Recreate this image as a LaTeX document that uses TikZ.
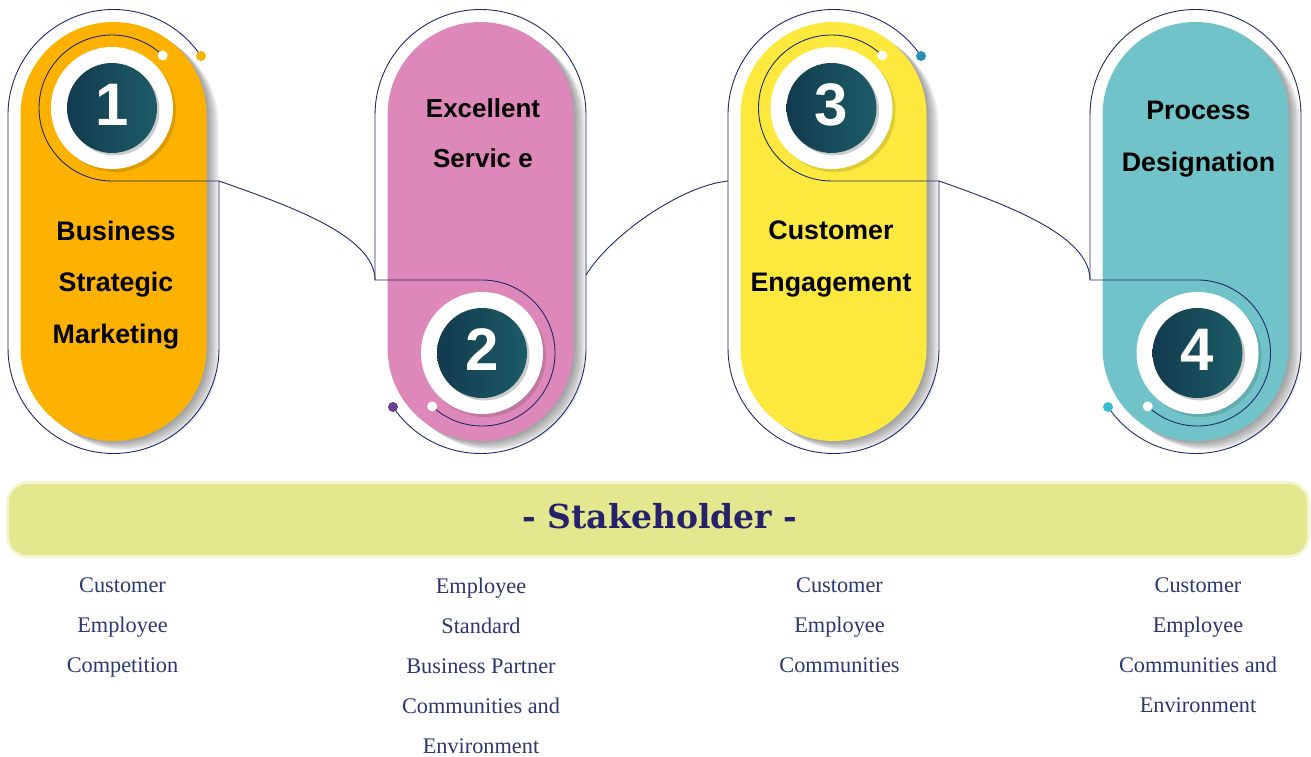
\documentclass[tikz,border=0pt]{standalone}
\usepackage{fontspec}
\setmainfont{Liberation Serif}
\setsansfont{Liberation Sans}
\newfontfamily\bandfont{DejaVu Serif}

\definecolor{pillorange}{HTML}{FDB100}
\definecolor{pillpink}{HTML}{DD88B8}
\definecolor{pillyellow}{HTML}{FDE93D}
\definecolor{pillteal}{HTML}{70C4C9}
\definecolor{rimblue}{HTML}{1F2A6B}
\definecolor{discleft}{HTML}{123A4E}
\definecolor{discright}{HTML}{1C5C66}
\definecolor{dotpurple}{HTML}{6A3D8E}
\definecolor{dotblue}{HTML}{2A8FB0}
\definecolor{dotcyan}{HTML}{3CBCCF}
\definecolor{bandfill}{HTML}{E3E88E}
\definecolor{stakeblue}{HTML}{25226B}
\definecolor{listblue}{HTML}{2B376E}

\begin{document}
\begin{tikzpicture}[x=1pt, y=1pt,
    rim/.style={draw=rimblue, line width=0.9pt},
    pill/.style={rounded corners=93pt},
    ring/.style={circle, fill=white, minimum size=122pt, inner sep=0pt},
    disc/.style={circle, minimum size=90pt, inner sep=0pt, left color=discleft, right color=discright},
    digit/.style={text=white, font=\sffamily\bfseries\fontsize{60}{60}\selectfont},
    dot/.style={circle, inner sep=0pt, minimum size=10pt},
    title/.style={anchor=north, inner sep=0pt, align=center, font=\sffamily\bfseries\fontsize{26.8}{51.5}\selectfont},
    stake/.style={anchor=base, inner sep=0pt, text=stakeblue, font=\bandfont\bfseries\fontsize{33}{33}\selectfont},
    holder/.style={anchor=north, inner sep=0pt, align=center, text=listblue, font=\fontsize{22.3}{40}\selectfont}]

    \useasboundingbox (0,0) rectangle (1311,756);

    \foreach \c in {113.5,480.5,833.5,1195.5}
      \foreach \s in {1,...,6}
        \fill[black, opacity=0.07, pill] (\c-93+2*\s,315-1.5*\s) rectangle (\c+93+2*\s,734-1.5*\s);

    \fill[pillorange, pill] (20.5,315) rectangle (206.5,734);
    \fill[pillpink, pill] (387.5,315) rectangle (573.5,734);
    \fill[pillyellow, pill] (740.5,315) rectangle (926.5,734);
    \fill[pillteal, pill] (1102.5,315) rectangle (1288.5,734);

    \foreach \x/\y/\d in {112/648/1, 482/403/2, 831.5/648/3, 1197.5/403/4} {
      \fill[black, opacity=0.12] (\x+3,\y-3) circle (61pt);
      \node[ring] (r\d) at (\x,\y) {};
      \fill[black, opacity=0.2] (\x+2.5,\y-2.5) circle (45pt);
      \node[disc] (n\d) at (\x,\y) {};
      \node[digit] (d\d) at (\x,\y+3) {\d};
    }

    \coordinate (k1) at (219,575);
    \coordinate (k2) at (375,476);
    \coordinate (k2r) at (586,481);
    \coordinate (k3l) at (728,575);
    \coordinate (k3) at (939,575);
    \coordinate (k4) at (1090,476);

    \draw[rim] (113.5,641) ++(34:105.5pt) arc (34:180:105.5pt) -- (8,408) arc (180:360:105.5pt) -- (k1) -- (112,575) arc (270:46:73pt);
    \draw[rim] (480.5,408) ++(214:105.5pt) arc (214:360:105.5pt) -- (586,641) arc (0:180:105.5pt) -- (k2) -- (482,476) arc (90:-133:73pt);
    \draw[rim] (833.5,641) ++(34:105.5pt) arc (34:180:105.5pt) -- (728,408) arc (180:360:105.5pt) -- (k3) -- (831.5,575) arc (270:46:73pt);
    \draw[rim] (1195.5,408) ++(214:105.5pt) arc (214:360:105.5pt) -- (1301,641) arc (0:180:105.5pt) -- (k4) -- (1197.5,476) arc (90:-133:73pt);

    \draw[rim] (k1) .. controls (290,550) and (375,520) .. (k2);
    \draw[rim] (k2r) .. controls (610,520) and (680,570) .. (k3l);
    \draw[rim] (k3) .. controls (1010,550) and (1090,520) .. (k4);

    \node[dot, fill=pillorange] (o1) at (201,700) {};
    \node[dot, fill=white] (w1) at (162.7,700.5) {};
    \node[dot, fill=dotpurple] (o2) at (393,349) {};
    \node[dot, fill=white] (w2) at (432.2,349.6) {};
    \node[dot, fill=dotblue] (o3) at (921,700) {};
    \node[dot, fill=white] (w3) at (882.2,700.5) {};
    \node[dot, fill=dotcyan] (o4) at (1108,349) {};
    \node[dot, fill=white] (w4) at (1147.7,349.6) {};

    \node[title] (t1) at (116,535.2) {Business\\Strategic\\Marketing};
    \node[title, font=\sffamily\bfseries\fontsize{26}{50}\selectfont] (t2) at (483,657.5) {Excellent\\Servic e};
    \node[title] (t3) at (831,535.2) {Customer\\Engagement};
    \node[title] (t4) at (1198.5,654.8) {Process\\Designation};

    \fill[bandfill, opacity=0.4, rounded corners=22pt] (6,198) rectangle (1310,275);
    \fill[bandfill, rounded corners=18pt] (9,201) rectangle (1307,272);
    \node[stake] (st) at (660,228) {- Stakeholder -};

    \node[holder] (h1) at (122.5,178.2) {Customer\\Employee\\Competition};
    \node[holder] (h2) at (481,178.2) {Employee\\Standard\\Business Partner\\Communities and\\Environment};
    \node[holder] (h3) at (839.5,178.2) {Customer\\Employee\\Communities};
    \node[holder] (h4) at (1198,178.2) {Customer\\Employee\\Communities and\\Environment};

  \end{tikzpicture}
\end{document}
